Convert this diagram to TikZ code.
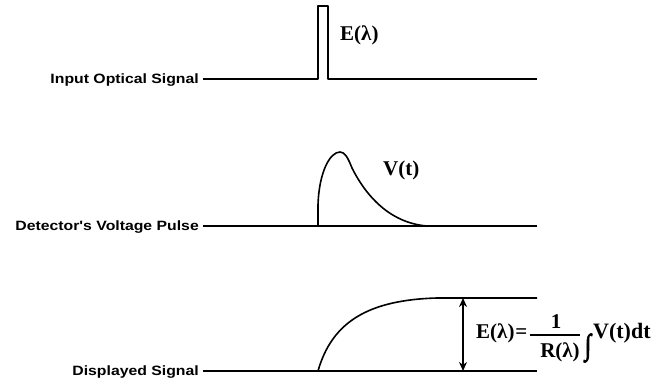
\documentclass[tikz,border=0pt]{standalone}
\usepackage{fontspec}
\setmainfont{Liberation Serif}
\newfontfamily\arialfont{Liberation Sans}[FakeStretch=1.17]
\newfontfamily\intfont{Liberation Serif}[FakeBold=3]
\usetikzlibrary{arrows.meta,positioning}
\tikzset{
  sig/.style={line width=1.6pt,line join=round},
  rowlabel/.style={anchor=base east,font=\arialfont\bfseries\fontsize{13.5}{16}\selectfont,inner sep=4pt},
  eqtext/.style={font=\bfseries\fontsize{21}{24}\selectfont,inner sep=0pt},
}
\begin{document}
\begin{tikzpicture}[x=1pt,y=-1pt]
  \useasboundingbox (0,0) rectangle (658,379);
  % row labels
  \node[rowlabel] (inlabel) at (203,84) {Input Optical Signal};
  \node[rowlabel] (detlabel) at (203,231) {Detector's Voltage Pulse};
  \node[rowlabel] (displabel) at (203,375) {Displayed Signal};
  % input pulse
  \draw[sig] (inlabel.east|-0,79) -- (318,79) -- (318,6) -- (328,6) -- (328,79) -- (537,79);
  \node[eqtext,anchor=west] (elabel) at (340,35) {E(λ)};
  % detector pulse
  \draw[sig] (detlabel.east|-0,226) -- (537,226);
  \draw[sig] (318,226) -- (318,205) .. controls (319,172) and (330,152) .. (340,152)
    .. controls (345,152) and (348,158) .. (352,168)
    .. controls (366,196) and (390,223) .. (427,226);
  \node[eqtext,anchor=west] (vlabel) at (383,170) {V(t)};
  % displayed signal
  \draw[sig] (displabel.east|-0,371) -- (537,371);
  \draw[sig] (318,371) .. controls (332,322) and (368,300) .. (437,298) -- (537,298);
  \coordinate (plateau) at (463,298);
  \coordinate (zero) at (463,371);
  \draw[sig,{Stealth[length=9pt,width=8pt]}-{Stealth[length=9pt,width=8pt]}] (plateau) -- (zero);
  % formula
  \node[eqtext,anchor=west] (eqleft) at (476,333) {E(λ)\kern1pt=};
  \node[eqtext] (num) at (556,322) {1};
  \node[eqtext] (den) at (560,352) {R(λ)};
  \draw[line width=1.2pt] (530,335) -- (580,335);
  \node[eqtext,font=\intfont\fontsize{21}{24}\selectfont] (integ) at (588,348) {\scalebox{1.1}[1.4]{∫}};
  \node[eqtext,anchor=west,font=\bfseries\fontsize{22}{24}\selectfont] (eqright) at (593,333) {V(t)dt};
\end{tikzpicture}
\end{document}
